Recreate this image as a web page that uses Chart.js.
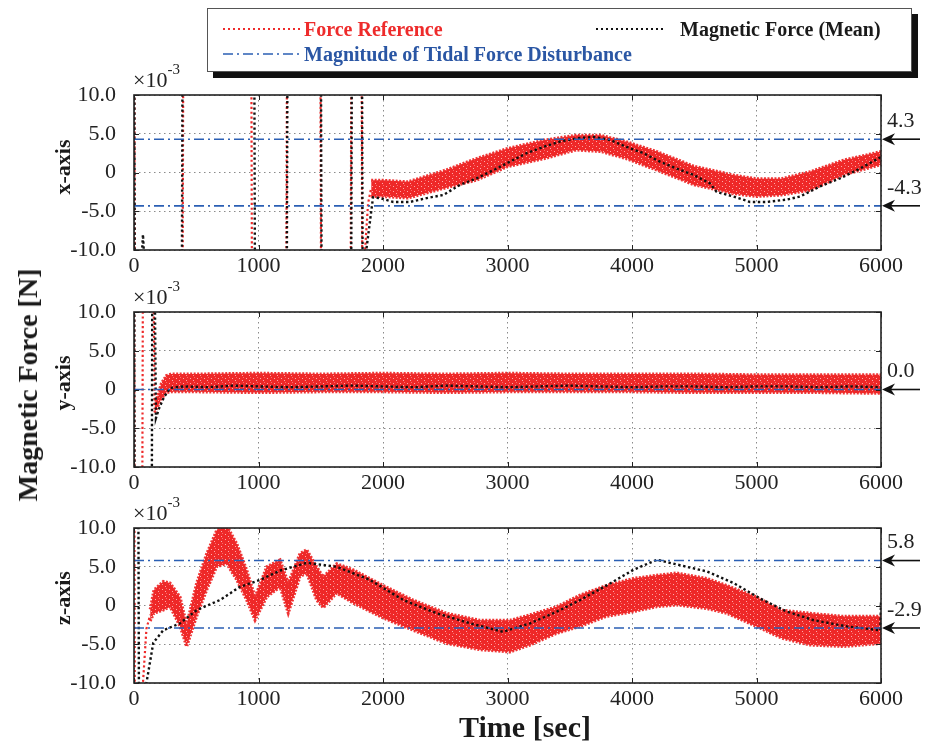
<!DOCTYPE html>
<html><head><meta charset="utf-8">
<script src="https://cdn.jsdelivr.net/npm/chart.js@4.4.1/dist/chart.umd.min.js"></script>
<style>
body{margin:0;background:#fff;}
#wrap{position:relative;width:930px;height:749px;overflow:hidden;background:#fff;font-family:"Liberation Serif","Times New Roman",serif;}
canvas.c{position:absolute;left:0;}
.t{position:absolute;white-space:nowrap;color:#1a1a1a;line-height:1;}
.rot{transform:translate(-50%,-50%) rotate(-90deg);font-weight:bold;}
#legend{position:absolute;left:207px;top:8px;width:703px;height:62px;border:1px solid #555;background:#fff;box-shadow:6px 6px 0 #111;z-index:5;}
#legend .lt{position:absolute;font-weight:bold;font-size:20px;line-height:1;white-space:nowrap;}
#legend svg{position:absolute;left:0;top:0;}
</style></head><body>
<div id="wrap">
  <canvas id="c1" class="c" width="930" height="230" style="top:55px"></canvas>
  <canvas id="c2" class="c" width="930" height="230" style="top:272px"></canvas>
  <canvas id="c3" class="c" width="930" height="230" style="top:488px"></canvas>
  <div id="legend">
    <svg width="703" height="62">
      <line x1="15" y1="20" x2="93" y2="20" stroke="#ee2b2b" stroke-width="2" stroke-dasharray="2 3"/>
      <line x1="388" y1="20" x2="458" y2="20" stroke="#111" stroke-width="2" stroke-dasharray="2 3"/>
      <line x1="15" y1="45" x2="91" y2="45" stroke="#2b5fb4" stroke-width="1.5" stroke-dasharray="10 4 2 4"/>
    </svg>
    <div class="lt" style="left:96px;top:10px;color:#ee2b2b;">Force Reference</div>
    <div class="lt" style="left:472px;top:10px;color:#1a1a1a;">Magnetic Force (Mean)</div>
    <div class="lt" style="left:96px;top:35px;color:#2a56a4;">Magnitude of Tidal Force Disturbance</div>
  </div>
  <div class="t rot" style="left:28px;top:385px;font-size:28px;">Magnetic Force [N]</div>
  <div class="t rot" style="left:63px;top:167px;font-size:22px;">x-axis</div>
  <div class="t rot" style="left:63px;top:383px;font-size:22px;">y-axis</div>
  <div class="t rot" style="left:63px;top:598px;font-size:22px;">z-axis</div>
  <div class="t" style="left:525px;top:727px;transform:translate(-50%,-50%);font-size:30px;font-weight:bold;">Time [sec]</div>
</div>
<script>
// ---------- tick labels ----------
const xTickValues = [0, 1000, 2000, 3000, 4000, 5000, 6000];
const xTickLabels = ['0', '1000', '2000', '3000', '4000', '5000', '6000'];
const yTickValues = [-10, -5, 0, 5, 10];
const yTickLabels = ['-10.0', '-5.0', '0', '5.0', '10.0'];

// ---------- x-axis subplot ----------
const xRefTransT = [0, 8, 386, 400, 938, 952, 1219, 1233, 1493, 1507, 1736, 1750, 1824, 1838, 1856, 1880, 1905];
const xRefTransV = [40, -40, -40, 40, 40, -40, -40, 40, 40, -40, -40, 40, 40, -40, -10, -4, -2];
const xRefBandT = [1905, 2000, 2200, 2500, 2750, 3000, 3300, 3550, 3750, 3950, 4200, 4500, 4700, 4800, 5000, 5200, 5430, 5700, 6000];
const xRefUpper = [-1.0, -1.0, -1.2, 0.3, 1.8, 3.1, 4.2, 4.8, 4.8, 4.0, 2.7, 0.8, 0.1, -0.3, -0.8, -0.8, 0.1, 1.6, 2.7];
const xRefLower = [-3.1, -3.1, -3.3, -2.0, -1.0, 0.75, 1.8, 2.9, 2.7, 1.8, 0.3, -1.6, -2.3, -2.7, -3.1, -2.9, -2.3, -0.3, 1.0];
const xMeanT = [0, 8, 55, 72, 88, 380, 394, 962, 976, 1223, 1237, 1497, 1511, 1740, 1754, 1827, 1841, 1866, 1920, 1976, 2083, 2217, 2351, 2485, 2618, 2752, 2886, 3020, 3154, 3288, 3422, 3556, 3689, 3823, 3957, 4091, 4225, 4359, 4493, 4626, 4680, 4814, 4948, 5082, 5243, 5350, 5510, 5671, 5831, 6000];
const xMeanV = [40, -40, -13, -8, -13, -40, 40, 40, -40, -40, 40, 40, -40, -40, 40, 40, -40, -10, -3.2, -3.3, -3.8, -3.8, -3.3, -2.9, -1.6, -0.75, 0.3, 1.4, 2.5, 3.3, 4.0, 4.4, 4.6, 4.2, 3.3, 2.5, 1.4, 0.5, -0.3, -1.4, -2.5, -3.1, -3.8, -3.8, -3.5, -3.1, -1.8, -0.75, 0.5, 2.0];
const xDisturb = [4.3, -4.3];

// ---------- y-axis subplot ----------
const yRefTransT = [0, 5, 62, 76, 146, 165];
const yRefTransV = [40, -40, -40, 40, 40, -2.5];
const yRefBandT = [165, 190, 220, 260, 300, 500, 1000, 1500, 2000, 2500, 3000, 3500, 4000, 4500, 5000, 5500, 6000];
const yRefUpper = [-2.0, -0.8, 0.8, 1.8, 2.0, 2.0, 2.1, 2.0, 2.1, 2.0, 2.1, 2.0, 2.0, 2.0, 1.9, 1.9, 1.9];
const yRefLower = [-3.0, -2.2, -1.2, -0.4, -0.3, -0.3, -0.4, -0.3, -0.3, -0.4, -0.3, -0.3, -0.3, -0.4, -0.4, -0.4, -0.5];
const yMeanT = [0, 6, 140, 150, 153, 176, 200, 240, 290, 400, 600, 800, 1000, 1250, 1500, 1750, 2000, 2250, 2500, 2750, 3000, 3250, 3500, 3750, 4000, 4250, 4500, 4750, 5000, 5250, 5500, 5750, 6000];
const yMeanV = [40, -40, -40, 40, 40, -3.7, -2.5, -1.0, 0.2, 0.4, 0.3, 0.5, 0.4, 0.3, 0.4, 0.5, 0.4, 0.3, 0.5, 0.4, 0.3, 0.4, 0.5, 0.4, 0.3, 0.4, 0.4, 0.3, 0.4, 0.4, 0.3, 0.4, 0.3];
const yDisturb = [0.0];

// ---------- z-axis subplot ----------
const zRefTransT = [0, 10, 55, 72, 100, 130];
const zRefTransV = [40, -40, -40, -10, -3, -1.2];
const zRefBandT = [130, 160, 235, 290, 370, 423, 503, 584, 664, 745, 825, 905, 972, 1066, 1173, 1239, 1333, 1387, 1467, 1520, 1628, 1762, 2000, 2243, 2511, 2779, 3020, 3181, 3395, 3582, 3797, 4011, 4198, 4360, 4600, 4760, 5000, 5200, 5430, 5700, 6000];
const zRefUpper = [-0.5, 2.0, 3.1, 2.9, 1.1, -2.5, 2.9, 6.7, 9.7, 10.3, 8.0, 4.6, 1.1, 5.0, 5.9, 2.9, 6.7, 7.2, 5.0, 3.7, 5.4, 4.6, 2.6, 0.7, -1.0, -1.9, -1.9, -1.2, -0.15, 1.35, 2.6, 3.5, 3.9, 4.2, 3.5, 2.6, 1.1, -0.6, -1.0, -1.4, -1.4];
const zRefLower = [-2.0, -1.0, -0.6, -0.15, -2.7, -5.3, -1.4, 2.0, 5.0, 5.4, 3.3, 0.7, -1.9, 1.1, 2.4, -1.0, 3.7, 4.2, 0.7, -0.3, 1.6, 0.3, -1.6, -3.2, -4.9, -5.7, -6.0, -5.1, -3.6, -2.7, -1.4, -0.8, -0.15, 0.06, -0.4, -1.0, -2.7, -4.2, -5.1, -5.3, -4.9];
const zMeanT = [0, 30, 45, 92, 100, 155, 235, 370, 503, 690, 850, 1012, 1173, 1387, 1628, 1896, 2163, 2431, 2700, 2964, 3181, 3395, 3582, 3797, 4011, 4200, 4385, 4600, 4815, 5030, 5245, 5460, 5727, 5995, 6000];
const zMeanV = [40, 40, -40, -12, -10, -4.8, -3.2, -2.3, -0.6, 0.7, 2.4, 3.3, 4.5, 5.5, 5.0, 3.3, 0.7, -1.0, -2.3, -3.4, -2.3, -0.8, 0.7, 2.6, 4.6, 5.9, 5.2, 4.4, 2.9, 0.9, -0.8, -1.9, -2.7, -3.2, 0.5];
const zDisturb = [5.8, -2.9];

// ---------- styling ----------
const RED = '#ee2b2b';
const BLACK = '#111111';
const BLUE = '#2b5fb4';
const SERIF = '"Liberation Serif", "Times New Roman", serif';

// speckled red fill texture (style only)
function makeTexture() {
  const c = document.createElement('canvas');
  c.width = 7; c.height = 5;
  const g = c.getContext('2d');
  g.fillStyle = 'rgb(238,40,40)';
  g.fillRect(0, 0, 7, 5);
  g.fillStyle = 'rgba(255,185,185,0.9)';
  g.fillRect(1, 1, 1, 1);
  g.fillRect(4, 3, 1, 1);
  g.fillStyle = 'rgba(255,120,120,0.8)';
  g.fillRect(5, 0, 1, 1);
  return g.createPattern(c, 'repeat');
}
const BAND_FILL = makeTexture();

const pts = (t, v) => t.map((x, i) => ({x, y: v[i]}));

const framePlugin = {
  id: 'frame',
  afterDraw(chart, args, opts) {
    const {ctx, chartArea: a} = chart;
    const xs = chart.scales.x, ys = chart.scales.y;
    ctx.save();
    ctx.strokeStyle = '#222';
    ctx.lineWidth = 1;
    ctx.beginPath();
    xs.ticks.forEach(t => {
      const px = Math.round(xs.getPixelForValue(t.value)) + 0.5;
      ctx.moveTo(px, a.bottom); ctx.lineTo(px, a.bottom - 5);
      ctx.moveTo(px, a.top); ctx.lineTo(px, a.top + 5);
    });
    ys.ticks.forEach(t => {
      const py = Math.round(ys.getPixelForValue(t.value)) + 0.5;
      ctx.moveTo(a.left, py); ctx.lineTo(a.left + 5, py);
      ctx.moveTo(a.right, py); ctx.lineTo(a.right - 5, py);
    });
    ctx.stroke();
    ctx.lineWidth = 1.6;
    ctx.strokeRect(a.left, a.top, a.right - a.left, a.bottom - a.top);
    // multiplier
    ctx.fillStyle = '#222';
    ctx.textBaseline = 'alphabetic';
    ctx.textAlign = 'left';
    ctx.font = '22px ' + SERIF;
    ctx.fillText('\u00d710', a.left - 1, a.top - 8);
    const w = ctx.measureText('\u00d710').width;
    ctx.font = '15px ' + SERIF;
    ctx.fillText('-3', a.left - 1 + w, a.top - 21);
    // disturbance markers
    (opts.marks || []).forEach(v => {
      const py = ys.getPixelForValue(v);
      ctx.strokeStyle = '#111'; ctx.fillStyle = '#111';
      ctx.lineWidth = 1.6;
      ctx.beginPath(); ctx.moveTo(a.right + 8, py); ctx.lineTo(920, py); ctx.stroke();
      ctx.beginPath();
      ctx.moveTo(a.right + 1, py);
      ctx.lineTo(a.right + 14, py - 6);
      ctx.lineTo(a.right + 10, py);
      ctx.lineTo(a.right + 14, py + 6);
      ctx.closePath(); ctx.fill();
      ctx.font = '22px ' + SERIF;
      ctx.fillStyle = '#222';
      ctx.textBaseline = 'middle';
      ctx.fillText(v.toFixed(1), 887, py - 18);
    });
    ctx.restore();
  }
};

function makeChart(id, trT, trV, bT, bU, bL, mT, mV, dist) {
  const datasets = [];
  dist.forEach(v => datasets.push({
    data: [{x: 0, y: v}, {x: 6000, y: v}], borderColor: BLUE, borderWidth: 1.6,
    borderDash: [10, 4, 2, 4], order: 0, fill: false
  }));
  datasets.push({data: pts(mT, mV), borderColor: BLACK, borderWidth: 2.4, borderDash: [2.4, 2.6], order: 1, fill: false});
  datasets.push({data: pts(trT, trV), borderColor: RED, borderWidth: 2.2, borderDash: [2.2, 2.6], order: 2, fill: false});
  datasets.push({data: pts(bT, bU), borderColor: 'rgba(238,43,43,0.95)', borderWidth: 3, borderDash: [2, 1.5],
                 backgroundColor: BAND_FILL, fill: '+1', order: 3});
  datasets.push({data: pts(bT, bL), borderColor: 'rgba(238,43,43,0.95)', borderWidth: 3, borderDash: [2, 1.5], fill: false, order: 4});

  return new Chart(document.getElementById(id), {
    type: 'line',
    data: {datasets},
    plugins: [framePlugin],
    options: {
      responsive: false, animation: false, devicePixelRatio: 1,
      layout: {padding: {top: 40, right: 49, left: 0, bottom: 0}},
      elements: {point: {radius: 0}, line: {tension: 0}},
      plugins: {legend: {display: false}, tooltip: {enabled: false}, frame: {marks: dist}},
      scales: {
        x: {
          type: 'linear', min: 0, max: 6000,
          afterFit: s => { s.height = 35; },
          afterBuildTicks: s => { s.ticks = xTickValues.map(v => ({value: v})); },
          ticks: {font: {family: SERIF, size: 22}, color: '#222', padding: 3, maxRotation: 0,
                  callback: v => xTickLabels[xTickValues.indexOf(v)]},
          grid: {color: '#8a8a8a', lineWidth: 1, drawTicks: false},
          border: {display: false, dash: [1.5, 3.5]}
        },
        y: {
          min: -10, max: 10,
          afterFit: s => { s.width = 134; },
          afterBuildTicks: s => { s.ticks = yTickValues.map(v => ({value: v})); },
          ticks: {font: {family: SERIF, size: 22}, color: '#222', padding: 18,
                  callback: v => yTickLabels[yTickValues.indexOf(v)]},
          grid: {color: '#8a8a8a', lineWidth: 1, drawTicks: false},
          border: {display: false, dash: [1.5, 3.5]}
        }
      }
    }
  });
}

makeChart('c1', xRefTransT, xRefTransV, xRefBandT, xRefUpper, xRefLower, xMeanT, xMeanV, xDisturb);
makeChart('c2', yRefTransT, yRefTransV, yRefBandT, yRefUpper, yRefLower, yMeanT, yMeanV, yDisturb);
makeChart('c3', zRefTransT, zRefTransV, zRefBandT, zRefUpper, zRefLower, zMeanT, zMeanV, zDisturb);
</script>
</body></html>
